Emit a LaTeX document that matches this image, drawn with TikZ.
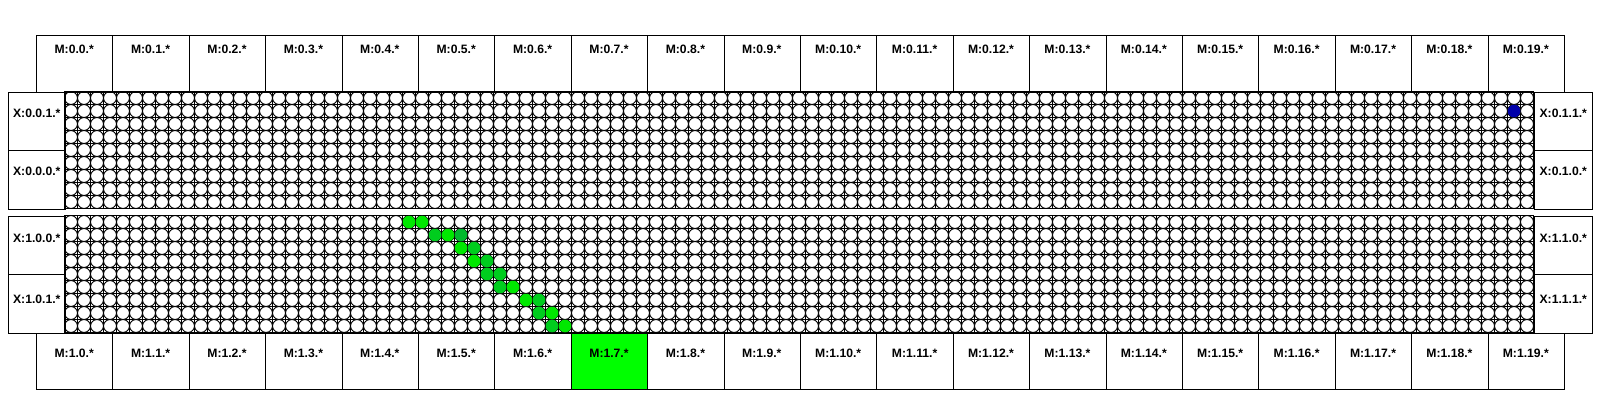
\documentclass[tikz,border=0pt]{standalone}
\usepackage{fontspec}
\setmainfont{Liberation Sans}
\definecolor{gA}{RGB}{0,232,0}
\definecolor{gB}{RGB}{0,205,30}
\definecolor{gC}{RGB}{0,185,45}
\definecolor{dotblue}{RGB}{0,0,170}
\definecolor{boxgreen}{RGB}{0,255,0}
\begin{document}
\begin{tikzpicture}[x=1bp,y=-1bp,
  lbl/.style={font=\bfseries\fontsize{12.2}{14}\selectfont, inner sep=0pt},
  mbox/.style={draw=black, line width=1bp, minimum width=76.4bp, minimum height=56.7bp, inner sep=0pt, anchor=north west},
  xboxl/.style={draw=black, line width=1bp, minimum width=56.5bp, minimum height=58.5bp, inner sep=0pt, anchor=north west},
  xboxr/.style={draw=black, line width=1bp, minimum width=58.5bp, minimum height=58.5bp, inner sep=0pt, anchor=north west},
  gline/.style={draw=black, line width=1bp},
  cell/.style={draw=black, fill=white, line width=0.9bp},
  frame/.style={draw=black, line width=1bp}
]
\useasboundingbox (0,0) rectangle (1600,400);
\def\P{13}
% ---------- two meshes ----------
\foreach \gy/\gn in {91.5/up,215.5/lo}{
  \begin{scope}[shift={(64.5,\gy)}]
    \foreach \i in {0,...,113}{ \draw[gline] ({\i*\P},0) -- ({\i*\P},{9*\P}); }
    \foreach \j in {0,...,9}{ \draw[gline] (0,{\j*\P}) -- ({113*\P},{\j*\P}); }
    \foreach \c in {0,...,112}{
      \foreach \r in {0,...,8}{
        \draw[cell] ({(\c+0.5)*\P},{(\r+0.5)*\P}) circle[radius=6.45bp];
      }
    }
    \draw[frame] (0,0) rectangle ({113*\P},{9*\P});
  \end{scope}
}
% ---------- highlighted cores ----------
\begin{scope}[shift={(64.5,215.5)}]
  \foreach \r/\c/\col in {0/26/gA,0/27/gA,1/28/gB,1/29/gA,1/30/gC,2/30/gA,2/31/gB,3/31/gA,3/32/gB,4/32/gB,4/33/gB,5/33/gB,5/34/gA,6/35/gA,6/36/gB,7/36/gB,7/37/gA,8/37/gB,8/38/gA}{
    \fill[\col] ({(\c+0.5)*\P},{(\r+0.5)*\P}) circle[radius=6.3bp];
  }
\end{scope}
\begin{scope}[shift={(64.5,91.5)}]
  \fill[dotblue] ({(111+0.5)*\P},{(1+0.5)*\P}) circle[radius=6.3bp];
\end{scope}
% ---------- M boxes ----------
\foreach \k in {0,...,19}{
  \node[mbox] (mt\k) at ({36+\k*76.4},34.8) {};
  \node[lbl] (mtl\k) at ({36+(\k+0.5)*76.4},49.5) {M:0.\k.*};
}
\foreach \k in {0,...,19}{
  \ifnum\k=7
    \node[mbox, fill=boxgreen] (mb\k) at ({36+\k*76.4},332.5) {};
  \else
    \node[mbox] (mb\k) at ({36+\k*76.4},332.5) {};
  \fi
  \node[lbl] (mbl\k) at ({36+(\k+0.5)*76.4},353.5) {M:1.\k.*};
}
% ---------- X boxes ----------
\node[xboxl] (xa) at (8,91.5) {};
\node[xboxl] (xb) at (8,150) {};
\node[xboxr] (xc) at (1533.5,91.5) {};
\node[xboxr] (xd) at (1533.5,150) {};
\node[xboxl] (xe) at (8,215.5) {};
\node[xboxl] (xf) at (8,274) {};
\node[xboxr] (xg) at (1533.5,215.5) {};
\node[xboxr] (xh) at (1533.5,274) {};
\node[lbl] (xal) at (xa.center |- 0,113) {X:0.0.1.*};
\node[lbl] (xbl) at (xb.center |- 0,171) {X:0.0.0.*};
\node[lbl] (xcl) at (xc.center |- 0,113) {X:0.1.1.*};
\node[lbl] (xdl) at (xd.center |- 0,171) {X:0.1.0.*};
\node[lbl] (xel) at (xe.center |- 0,238) {X:1.0.0.*};
\node[lbl] (xfl) at (xf.center |- 0,299) {X:1.0.1.*};
\node[lbl] (xgl) at (xg.center |- 0,238) {X:1.1.0.*};
\node[lbl] (xhl) at (xh.center |- 0,299) {X:1.1.1.*};
\end{tikzpicture}
\end{document}
